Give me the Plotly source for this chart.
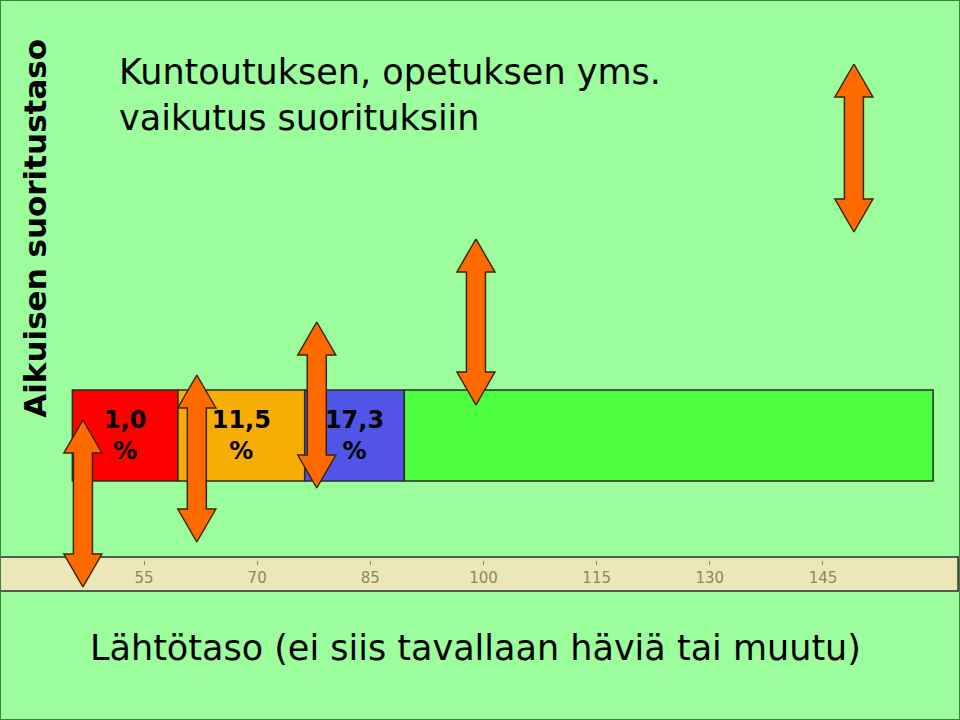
import plotly.graph_objects as go

# tasot (x-akselin yksikkö) ja osuudet
rajat = [45.5, 59.5, 76.3, 89.5, 159.6]
osuus_tekstit = ["<b>1,0</b><br><b>%</b>", "<b>11,5</b><br><b>%</b>", "<b>17,3</b><br><b>%</b>", ""]
palkin_varit = ["#FF0000", "#F6AE05", "#5055E6", "#4BFF40"]
palkin_taso = 435.5

tikit = [55, 70, 85, 100, 115, 130, 145]

# kaksipäiset nuolet: keskikohta x, ylä- ja alapää (taso-akselilla)
nuoli_x = [46.9, 62.0, 77.9, 99.0, 149.1]
nuoli_yla = [420, 375, 322, 239, 64]
nuoli_ala = [587, 542, 488, 405, 232]

PX = 7.544  # pikseliä / yksikkö
VARSI = 9.5 / PX
KARKI = 19 / PX
KARKI_PIT = 33

fig = go.Figure()

for i in range(len(rajat) - 1):
    fig.add_trace(go.Bar(y=[palkin_taso], x=[rajat[i + 1] - rajat[i]], base=[rajat[i]],
                         orientation='h', width=91, text=[osuus_tekstit[i]],
                         textposition='inside', insidetextanchor='middle', textangle=0,
                         textfont=dict(family="DejaVu Sans", size=24, color="black"),
                         marker=dict(color=palkin_varit[i], line=dict(color="#2b2b2b", width=1.5)),
                         showlegend=False, hoverinfo='skip'))

for cx, t, b in zip(nuoli_x, nuoli_yla, nuoli_ala):
    xs = [cx, cx + KARKI, cx + VARSI, cx + VARSI, cx + KARKI, cx, cx - KARKI, cx - VARSI,
          cx - VARSI, cx - KARKI, cx]
    ys = [t, t + KARKI_PIT, t + KARKI_PIT, b - KARKI_PIT, b - KARKI_PIT, b, b - KARKI_PIT,
          b - KARKI_PIT, t + KARKI_PIT, t + KARKI_PIT, t]
    fig.add_trace(go.Scatter(x=xs, y=ys, mode='lines', fill='toself', fillcolor="#FF6A00",
                             line=dict(color="#3a2600", width=1.5), showlegend=False,
                             hoverinfo='skip'))

# asteikkonauha
fig.add_shape(type="rect", xref="paper", yref="y", x0=0, x1=0.998, y0=557, y1=591,
              fillcolor="#EBE7B9", line=dict(color="#2b2b2b", width=1.5), layer="below")
# kehys
fig.add_shape(type="rect", xref="paper", yref="paper", x0=0, x1=1, y0=0, y1=1,
              line=dict(color="#3f7f3f", width=2))

fig.add_annotation(text="Kuntoutuksen, opetuksen yms.<br>vaikutus suorituksiin",
                   xref="paper", yref="paper", x=0.122, y=0.93, xanchor="left", yanchor="top",
                   align="left", showarrow=False,
                   font=dict(family="DejaVu Sans", size=35, color="black"))
fig.add_annotation(text="<b>Aikuisen suoritustaso</b>", textangle=-90,
                   xref="paper", yref="paper", x=0.037, y=0.683, xanchor="center",
                   yanchor="middle", showarrow=False,
                   font=dict(family="DejaVu Sans", size=31, color="black"))
fig.add_annotation(text="Lähtötaso (ei siis tavallaan häviä tai muutu)",
                   xref="paper", yref="paper", x=0.495, y=0.1, xanchor="center",
                   yanchor="middle", showarrow=False,
                   font=dict(family="DejaVu Sans", size=35, color="black"))

fig.update_layout(width=960, height=720, margin=dict(l=0, r=0, t=0, b=0),
                  paper_bgcolor="#9BFD9B", plot_bgcolor="#9BFD9B", barmode='overlay',
                  xaxis=dict(range=[35.91, 35.91 + 960 / PX], tickvals=tikit, showgrid=False,
                             zeroline=False, showline=False, anchor="free", position=1 - 560 / 720,
                             ticks="outside", ticklen=4, tickcolor="#8c8a6c",
                             tickfont=dict(family="DejaVu Sans", size=15, color="#8a876a")),
                  yaxis=dict(range=[720, 0], visible=False, domain=[0, 1]))

fig.write_html("out.html", config={"displayModeBar": False},
               post_script="document.body.style.margin='0';")
